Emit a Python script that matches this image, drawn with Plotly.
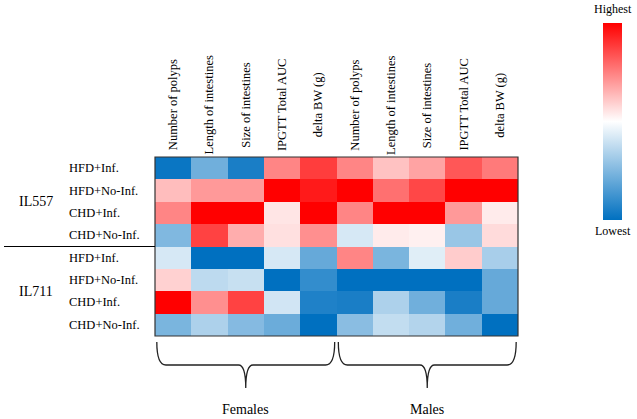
import plotly.graph_objects as go

W, H = 637, 419

columns = ["Number of polyps", "Length of intestines", "Size of intestines",
           "IPGTT Total AUC", "delta BW (g)"] * 2
rows = ["HFD+Inf.", "HFD+No-Inf.", "CHD+Inf.", "CHD+No-Inf.",
        "HFD+Inf.", "HFD+No-Inf.", "CHD+Inf.", "CHD+No-Inf."]
groups = ["IL557", "IL711"]
sexes = ["Females", "Males"]

# relative scores: 0 = lowest (blue), 0.5 = mid (white), 1 = highest (red)
r1 = [0.02, 0.22, 0.05, 0.74, 0.88, 0.74, 0.62, 0.68, 0.83, 0.76]
r2 = [0.63, 0.70, 0.70, 1.00, 0.95, 1.00, 0.78, 0.86, 1.00, 1.00]
r3 = [0.74, 1.00, 1.00, 0.55, 1.00, 0.74, 1.00, 1.00, 0.70, 0.54]
r4 = [0.25, 0.87, 0.66, 0.56, 0.72, 0.42, 0.54, 0.53, 0.30, 0.57]
r5 = [0.42, 0.00, 0.00, 0.42, 0.20, 0.74, 0.24, 0.44, 0.60, 0.33]
r6 = [0.59, 0.37, 0.39, 0.00, 0.10, 0.00, 0.00, 0.00, 0.00, 0.20]
r7 = [1.00, 0.72, 0.87, 0.41, 0.06, 0.05, 0.34, 0.22, 0.05, 0.20]
r8 = [0.24, 0.34, 0.26, 0.21, 0.00, 0.27, 0.38, 0.35, 0.22, 0.00]
values = [r1, r2, r3, r4, r5, r6, r7, r8]

FONT = "Liberation Serif"
blue = "rgb(0,112,192)"
red = "rgb(255,0,0)"
cscale = [[0, blue], [0.5, "rgb(255,255,255)"], [1, red]]

x0, x1 = 155 / W, 518 / W
y_top, y_bot = 1 - 157 / H, 1 - 336 / H

fig = go.Figure()
fig.add_trace(go.Heatmap(
    z=values, x=list(range(len(columns))), y=list(range(len(rows))),
    colorscale=cscale, zmin=0, zmax=1, showscale=True,
    colorbar=dict(thickness=19, len=197 / H, lenmode="fraction",
                  x=603 / W, xanchor="left", xpad=0, ypad=0,
                  y=1 - 121.5 / H, yanchor="middle", outlinewidth=0,
                  showticklabels=False, ticks=""),
    hoverinfo="skip"))

fig.update_xaxes(domain=[x0, x1], side="top", showticklabels=False,
                 ticks="", showgrid=False, zeroline=False,
                 range=[-0.5, len(columns) - 0.5], fixedrange=True)
fig.update_yaxes(domain=[y_bot, y_top], autorange=False,
                 range=[len(rows) - 0.5, -0.5], showticklabels=False,
                 ticks="", showgrid=False, zeroline=False, fixedrange=True)

ann = []
for j, c in enumerate(columns):
    ann.append(dict(x=j, xref="x", y=1 - 105 / H, yref="paper", text=c,
                    textangle=-90, showarrow=False, xanchor="center",
                    yanchor="middle",
                    font=dict(family=FONT, size=12.5, color="black")))
for i, r in enumerate(rows):
    ann.append(dict(x=67 / W, xref="paper", y=i, yref="y", text=r,
                    showarrow=False, xanchor="left", yanchor="middle",
                    font=dict(family=FONT, size=12.5, color="black")))
for g, gi in zip(groups, [1.5, 5.5]):
    ann.append(dict(x=36 / W, xref="paper", y=gi, yref="y", text=g,
                    showarrow=False, xanchor="center", yanchor="middle",
                    font=dict(family=FONT, size=14, color="black")))
for s, cx in zip(sexes, [2.0, 7.0]):
    ann.append(dict(x=cx, xref="x", y=1 - 409 / H, yref="paper", text=s,
                    showarrow=False, xanchor="center", yanchor="middle",
                    font=dict(family=FONT, size=14, color="black")))
ann.append(dict(x=613 / W, xref="paper", y=1 - 9 / H, yref="paper",
                text="Highest", showarrow=False, xanchor="center",
                yanchor="middle", font=dict(family=FONT, size=12, color="black")))
ann.append(dict(x=613 / W, xref="paper", y=1 - 231 / H, yref="paper",
                text="Lowest", showarrow=False, xanchor="center",
                yanchor="middle", font=dict(family=FONT, size=12, color="black")))

shapes = [
    dict(type="rect", xref="x domain", yref="y domain", x0=0, x1=1, y0=0, y1=1,
         line=dict(color="#333333", width=1.2)),
    dict(type="line", xref="paper", yref="y", x0=4 / W, x1=x0, y0=3.5, y1=3.5,
         line=dict(color="black", width=1.2)),
]

yt, ym, yb = 1 - 342 / H, 1 - 365 / H, 1 - 388 / H
for a, b in [(-0.45, 4.45), (4.55, 9.45)]:
    m = (a + b) / 2
    path = (f"M {a},{yt} Q {a},{ym} {a + 0.25},{ym} L {m - 0.2},{ym} "
            f"Q {m},{ym} {m},{yb} Q {m},{ym} {m + 0.2},{ym} "
            f"L {b - 0.25},{ym} Q {b},{ym} {b},{yt}")
    shapes.append(dict(type="path", xref="x", yref="paper", path=path,
                       line=dict(color="#222222", width=1.3)))

fig.update_layout(width=W, height=H, margin=dict(l=0, r=0, t=0, b=0),
                  paper_bgcolor="white", plot_bgcolor="white",
                  annotations=ann, shapes=shapes, showlegend=False)

fig.write_html("out.html", config={"displayModeBar": False},
               post_script="document.body.style.margin='0';"
                           "document.body.style.padding='0';")
